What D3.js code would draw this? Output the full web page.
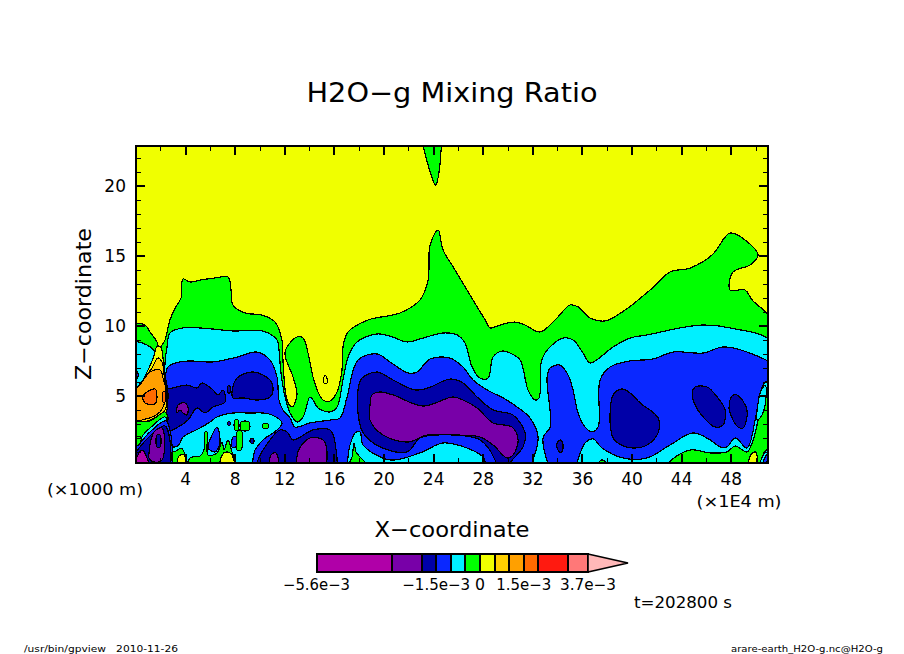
<!DOCTYPE html>
<html><head><meta charset="utf-8">
<script src="https://cdn.jsdelivr.net/npm/d3@7"></script>
<style>html,body{margin:0;background:#fff}svg{display:block}text{font-family:"DejaVu Sans";fill:#000}</style>
</head><body><svg id="c" width="904" height="654"></svg>
<script>
const title = "H2O−g Mixing Ratio";
const xLabel = "X−coordinate", zLabel = "Z−coordinate";
const xMajor = [4,8,12,16,20,24,28,32,36,40,44,48];
const xMinor = [2,6,10,14,18,22,26,30,34,38,42,46,50];
const zMajor = [5,10,15,20];
const zMinor = [1,2,3,4,6,7,8,9,11,12,13,14,16,17,18,19,21,22];
const levels = [-5.6e-3,-3e-3,-2e-3,-1.5e-3,-1e-3,-5e-4,0,5e-4,1e-3,1.5e-3,2e-3,3e-3,3.7e-3];
const levelLabels = [[-5.6e-3,"−5.6e−3",67],[-1.5e-3,"−1.5e−3",68],[0,"0",10],[1.5e-3,"1.5e−3",55],[3.7e-3,"3.7e−3",56]];
const bandColors = ["#b000a8","#7800a8","#0000a8","#0a28ff","#00f0ff","#00ff00","#f0ff00","#ffd000","#ffa000","#ff6a00","#ff1a10","#ff7878","#ffb8b8"];

// contour regions, [x (1E4 m), z (1000 m)]
const greenMain = [[-.44,10.19],[.04,10.19],[.77,10.05],[1.17,9.55],[1.73,8.84],[1.90,8.34],[2.14,8.62],[2.38,8.98],[2.78,10.41],[3.19,11.26],[3.67,11.98],[3.83,13.34],[4.40,13.12],[5.20,13.26],[6.41,13.41],[7.46,13.48],[7.70,12.55],[7.86,11.48],[8.83,10.91],[10.20,10.76],[11.25,10.26],[11.81,8.98],[11.90,7.34],[12.22,4.69],[12.62,4.19],[13.02,5.05],[12.70,6.34],[12.06,8.12],[13.02,9.19],[13.51,9.12],[13.91,8.05],[14.31,6.34],[14.72,5.26],[15.12,4.69],[15.69,4.62],[16.25,5.26],[16.65,6.84],[16.73,8.48],[17.14,9.55],[18.75,10.41],[21.33,10.91],[22.94,11.84],[23.59,13.26],[23.75,15.76],[24.40,16.84],[24.80,15.41],[25.77,13.98],[26.98,12.19],[28.19,10.41],[28.59,9.84],[29.40,10.05],[30.60,10.26],[31.41,10.05],[32.62,9.55],[33.83,10.41],[35.04,11.48],[35.69,11.34],[36.65,10.55],[37.86,10.34],[39.48,11.12],[41.49,12.55],[43.11,13.84],[44.72,14.12],[46.49,15.05],[47.94,16.62],[49.15,16.12],[50.20,15.05],[49.56,14.34],[48.19,13.84],[47.94,12.55],[49.15,12.55],[49.72,11.84],[51.57,10.05],[51.57,-.66],[-.44,-.66]];
const greenTop = [[22.94,23.98],[23.27,22.55],[23.59,21.48],[24.2,20.05],[24.5,21.12],[24.64,22.55],[24.88,23.98]];
const yellowDot = [[15.2,6.34],[15.36,6.41],[15.44,5.91],[15.2,5.91]];
const cyanMain = [[2.54,8.48],[2.78,9.48],[3.83,9.84],[6.25,9.76],[7.86,9.62],[10.28,9.62],[11.41,8.98],[11.57,8.26],[11.73,6.62],[12.06,4.91],[12.46,3.76],[13.02,3.12],[13.51,3.48],[14.07,4.91],[14.31,4.69],[14.72,4.12],[15.69,3.84],[16.25,4.19],[16.73,6.12],[17.14,7.76],[17.86,8.84],[19.48,9.41],[20.52,9.26],[21.90,8.84],[23.19,9.12],[24.80,9.48],[25.93,9.34],[26.57,8.76],[27.14,7.05],[27.78,6.26],[28.43,6.26],[28.83,7.76],[29.56,8.19],[30.20,8.05],[31.01,7.55],[31.65,5.41],[32.22,4.69],[32.54,4.84],[32.70,7.34],[33.19,8.26],[34.48,9.12],[35.28,8.98],[36.09,8.05],[36.65,7.34],[38.51,8.48],[39.88,9.12],[41.25,9.34],[43.91,9.84],[45.77,10.05],[47.94,9.84],[51.57,8.62],[51.57,-.66],[2.38,-.66],[2.38,4.69],[2.38,7.34]];
const blueMain = [[2.62,7.05],[3.59,7.41],[4.40,7.48],[6.25,7.41],[8.19,7.76],[9.80,8.12],[10.85,7.55],[11.41,6.34],[11.57,4.69],[11.90,3.98],[12.46,3.41],[12.86,2.76],[14.07,3.05],[15.69,3.26],[16.49,3.41],[17.06,4.91],[17.94,7.55],[19.48,7.98],[20.52,7.41],[21.98,6.62],[22.70,6.69],[23.75,7.62],[25.36,7.69],[26.41,7.05],[27.22,6.12],[28.35,5.41],[29.64,4.84],[30.77,4.19],[31.81,3.41],[32.46,2.05],[31.98,.26],[31.41,-.66],[28.59,-.66],[28.02,.62],[26.73,1.26],[24.80,1.62],[22.94,.91],[20.52,.41],[18.35,1.48],[18.10,2.41],[17.70,2.34],[17.30,1.48],[16.49,-.66],[2.38,-.66],[2.38,2.55],[2.38,5.62]];
const blueRight = [[33.19,6.34],[33.43,6.98],[34.23,7.19],[34.88,6.48],[35.28,5.41],[35.69,3.76],[36.25,2.76],[36.81,2.41],[37.30,2.76],[37.46,6.12],[38.27,7.05],[39.88,7.48],[41.73,7.62],[43.35,8.12],[45.77,8.05],[47.38,8.48],[49.31,8.12],[51.57,7.05],[51.57,6.12],[50.77,5.98],[50.36,5.19],[50.20,4.48],[49.96,3.26],[49.31,1.26],[48.35,1.98],[47.70,1.34],[47.14,1.34],[46.33,1.84],[44.96,2.34],[43.11,1.48],[41.25,.55],[39.31,.55],[37.62,1.26],[36.90,1.91],[36.25,1.62],[35.04,-.66],[33.83,-.66],[32.86,1.98],[33.43,2.76]];
const navyCenter = [[17.94,5.41],[18.27,6.26],[19.48,6.69],[20.77,6.12],[22.54,5.41],[23.59,5.55],[25.36,6.19],[26.41,5.91],[27.54,4.91],[28.83,3.98],[30.44,3.62],[31.41,2.34],[31.25,1.34],[30.20,.19],[29.80,-.66],[29.23,-.66],[28.99,.41],[27.78,1.84],[24.56,2.20],[22.94,1.98],[21.90,.98],[19.72,1.34],[18.35,2.34],[17.94,3.76]];
const purpleCenter = [[18.91,4.34],[19.07,5.05],[19.72,5.26],[20.77,5.05],[23.19,4.26],[25.60,4.91],[26.41,4.69],[27.54,4.12],[28.83,3.05],[30.36,2.76],[30.85,1.84],[30.44,.76],[29.96,.55],[28.83,1.48],[27.78,2.05],[25.93,2.19],[23.51,2.19],[21.98,1.69],[19.96,2.19],[18.91,3.26]];
const navyBig = [[38.27,3.76],[38.51,5.05],[39.23,5.48],[39.88,5.19],[40.69,4.48],[42.14,3.41],[42.14,2.34],[41.25,1.48],[40.28,1.26],[39.31,1.41],[38.51,1.98],[38.27,3.05]];
const navyRightA = [[44.88,5.19],[45.12,5.62],[46.09,5.62],[46.90,4.91],[47.54,3.98],[47.38,2.91],[46.73,2.76],[45.77,3.48],[45.12,4.34]];
const navyRightB = [[47.86,4.12],[48.11,4.98],[48.51,5.05],[49.31,3.98],[48.99,2.69],[48.59,2.76],[47.94,3.76]];
const navySmall = [[33.99,1.62],[34.31,1.84],[34.48,1.34],[34.31,.91],[33.99,1.26]];
const navyUpperLeft = [[3.02,5.55],[4.15,5.76],[4.96,5.55],[5.36,5.91],[6.25,5.41],[6.65,5.05],[7.06,5.41],[7.22,4.55],[6.25,4.19],[5.60,3.76],[4.96,4.12],[4.23,3.26],[3.43,2.76],[2.38,2.41],[2.38,5.41]];
const navyOval = [[7.78,5.26],[8.19,6.26],[9.48,6.69],[10.85,6.12],[11.09,5.41],[10.85,4.91],[9.88,4.69],[8.67,4.84],[7.86,4.84]];
const navySliver = [[7.46,5.7],[7.6,5.7],[7.6,5.2],[7.46,5.2]];
const purpleSpot = [[3.35,3.76],[3.43,4.34],[3.99,4.48],[4.23,4.19],[4.15,3.62],[3.83,3.76],[3.59,3.98]];
const cyanLake = [[2.14,-.66],[2.14,2.05],[2.46,2.19],[2.62,1.41],[3.43,1.41],[3.83,2.05],[4.40,2.34],[5.20,2.69],[6.01,3.12],[6.57,3.48],[7.86,3.76],[9.23,3.76],[10.28,3.76],[11.01,3.62],[11.81,3.05],[11.41,2.55],[10.28,1.84],[9.64,1.12],[8.99,-.66]];
const greenA = [[2.78,-.66],[2.86,.91],[3.27,1.05],[3.67,1.26],[3.91,.98],[4.07,-.66]];
const yellowA = [[3.43,-.66],[3.51,.69],[3.91,.76],[3.99,-.66]];
const greenB = [[4.15,-.66],[4.40,.55],[5.20,.69],[5.52,1.12],[5.60,2.41],[5.77,2.41],[5.85,.76],[6.57,.91],[6.98,1.69],[7.14,1.12],[7.46,1.84],[7.78,.98],[8.02,.41],[8.43,-.66]];
const yellowB = [[6.81,-.66],[6.98,.76],[7.30,.98],[7.78,.76],[7.94,-.66]];
const greenC = [[8.19,1.12],[8.19,2.41],[8.43,2.55],[8.59,2.41],[8.51,1.12]];
const greenD = [[8.51,3.12],[9.15,3.12],[9.15,2.55],[8.51,2.55]];
const greenE = [[8.02,3.26],[8.27,3.26],[8.27,2.55],[8.02,2.55]];
const greenF = [[10.28,2.98],[10.69,2.98],[10.69,2.69],[10.28,2.69]];
const blueG = [[5.85,1.27],[6.17,2.19],[6.57,2.76],[6.81,1.62],[6.41,.98]];
const blueH = [[7.78,1.34],[7.86,2.05],[8.1,2.05],[8.1,1.34]];
const navyDot = [[9.23,1.76],[9.40,1.98],[9.56,1.76],[9.40,1.55]];
const navyDot2 = [[7.46,3.12],[7.62,3.12],[7.62,2.91],[7.46,2.91]];
const navyLower = [[9.64,-.66],[9.88,.41],[10.44,1.34],[11.65,2.55],[12.22,2.41],[12.70,1.84],[14.31,2.55],[15.69,2.55],[16.09,1.62],[15.93,-.66]];
const purpleLower = [[13.10,.98],[14.07,1.98],[15.12,1.84],[15.44,.98],[15.04,-.66],[13.27,-.66]];
const purpleLowerB = [[10.85,-.66],[10.93,.76],[11.33,.91],[11.49,-.66]];
const greenCenter = [[16.89,-.66],[17.46,.62],[17.62,1.62],[17.78,.98],[18.10,.62],[19.31,-.66]];
const greenBump = [[36.90,-.66],[37.62,.41],[38.43,-.66]];
const greenRight = [[42.30,-.66],[42.94,.19],[44.72,1.12],[46.33,.91],[47.70,.98],[48.35,1.41],[49.31,.98],[49.80,1.84],[50.20,3.26],[50.52,4.98],[51.01,5.19],[51.57,5.19],[51.57,-.66]];
const cyanRight = [[50.20,4.48],[50.36,5.19],[50.77,5.76],[50.85,5.05],[50.52,3.62],[50.12,3.26]];
const yellowRight = [[49.48,-.66],[49.56,.69],[49.96,.98],[50.12,.69],[49.96,-.66]];
const cyanCorner = [[50.20,-.66],[51.01,1.26],[51.57,1.26],[51.57,-.66]];
const blueCorner = [[50.44,-.66],[51.01,.91],[51.57,.91],[51.57,-.66]];
const purpleCorner = [[50.77,-.66],[51.01,.41],[51.57,.41],[51.57,-.66]];
const cyanLeft = [[-.44,8.76],[.93,8.62],[1.65,7.91],[1.17,6.98],[.52,5.98],[.12,5.26],[-.44,4.84]];
const blueSliver = [[-.04,6.84],[.16,6.69],[.16,6.26],[-.04,6.12]];
const yellowLeft = [[2.02,8.5],[1.72,8.5],[1.49,7.84],[1.09,6.98],[.52,5.98],[.12,5.26],[-.44,4.69],[-.44,2.05],[1.17,2.91],[2.38,3.62],[2.62,5.05],[2.38,6.48],[2.22,7.69]];
const goldLeft = [[1.81,7.69],[1.33,6.98],[.85,6.41],[.28,5.76],[-.44,5.05],[-.44,2.91],[1.17,3.26],[2.38,3.98],[2.54,5.19],[2.30,6.48],[2.14,7.41]];
const orangeLeft = [[1.98,6.84],[1.17,6.69],[.52,5.98],[.12,5.55],[-.44,5.41],[-.44,3.26],[.52,3.26],[1.98,3.84],[2.46,5.26],[2.22,6.26]];
const deepOrangeA = [[1.57,5.48],[.60,4.98],[.77,4.48],[1.57,4.41],[1.73,4.91]];
const deepOrangeB = [[2.22,5.26],[2.38,5.26],[2.38,4.55],[2.22,4.55]];
const greenLeft = [[-.44,2.55],[.12,3.12],[1.17,3.19],[2.38,3.84],[2.62,3.26],[1.98,2.55],[.77,2.05],[-.44,1.12]];
const cyanStripe = [[.52,2.05],[1.17,2.69],[2.38,3.48],[2.54,2.91],[1.17,2.05],[.52,1.48]];
const blueBase = [[-.44,-.66],[-.44,.76],[.36,1.62],[1.17,2.41],[2.46,3.19],[2.62,-.66]];
const navyBase = [[-.44,-.66],[-.44,.26],[.36,1.34],[1.17,2.12],[2.38,2.84],[2.54,-.66]];
const purpleLeft = [[1.09,.91],[1.25,1.84],[1.49,2.41],[2.14,2.69],[2.14,.41],[1.49,.26],[1.09,.55]];
const navySlit = [[1.73,2.19],[1.98,2.19],[1.98,1.34],[1.73,1.34]];
const magentaLeft = [[-.44,-.66],[.12,.62],[.52,1.12],[.93,.55],[1.09,-.66]];
const greenDot = [[.05,2.05],[.4,2.05],[.4,1.6],[.05,1.45]];

// draw order, each with its colour band
const layerShapes = [greenMain,greenTop,yellowDot,cyanMain,blueMain,blueRight,navyCenter,purpleCenter,navyBig,navyRightA,navyRightB,navySmall,navyUpperLeft,navyOval,navySliver,purpleSpot,cyanLake,greenA,yellowA,greenB,yellowB,greenC,greenD,greenE,greenF,blueG,blueH,navyDot,navyDot2,navyLower,purpleLower,purpleLowerB,greenCenter,greenBump,greenRight,cyanRight,yellowRight,cyanCorner,blueCorner,purpleCorner,cyanLeft,blueSliver,yellowLeft,goldLeft,orangeLeft,deepOrangeA,deepOrangeB,greenLeft,cyanStripe,blueBase,navyBase,purpleLeft,navySlit,magentaLeft,greenDot];
const layerBands  = [5,5,6,4,3,3,2,1,2,2,2,2,2,2,2,1,4,5,6,5,6,5,5,5,5,3,3,2,2,2,1,1,5,5,5,4,6,4,3,0,4,3,6,7,8,9,9,5,4,3,2,1,2,0,5];

const svg = d3.select("#c");
const L=136,R=768,T=146,B=463;
const x = d3.scaleLinear().domain([0,51]).range([135.5,768]);
const z = d3.scaleLinear().domain([0.19,22.84]).range([463,146]);

svg.append("clipPath").attr("id","plot").append("rect").attr("x",L).attr("y",T).attr("width",R-L).attr("height",B-T);
const plot = svg.append("g").attr("clip-path","url(#plot)");
plot.append("rect").attr("x",L).attr("y",T).attr("width",R-L).attr("height",B-T).attr("fill",bandColors[6]);
const line = d3.line().x(d=>x(d[0])).y(d=>z(d[1])).curve(d3.curveCatmullRomClosed.alpha(0.5));
plot.selectAll("path").data(layerShapes).join("path")
  .attr("d",line).attr("fill",(d,i)=>bandColors[layerBands[i]])
  .attr("stroke","#000").attr("stroke-width",1.2).attr("shape-rendering","crispEdges");

function ticks(axis, tr, w){
  const g = svg.append("g").attr("transform",tr).call(axis);
  g.select(".domain").remove();
  g.selectAll("line").attr("stroke","#000").attr("stroke-width",w).attr("shape-rendering","crispEdges");
  return g;
}
const fmt = d=>d;
const none = ()=> "";
const bx = ticks(d3.axisBottom(x).tickValues(xMajor).tickSize(-9).tickFormat(fmt),`translate(0,${B})`,2);
bx.selectAll("text").attr("y",22).attr("dy",0).style("font-family","DejaVu Sans").style("font-size","17px").attr("fill","#000");
ticks(d3.axisBottom(x).tickValues(xMinor).tickSize(-5).tickFormat(none),`translate(0,${B})`,1);
ticks(d3.axisTop(x).tickValues(xMajor).tickSize(-9).tickFormat(none),`translate(0,${T})`,2);
ticks(d3.axisTop(x).tickValues(xMinor).tickSize(-5).tickFormat(none),`translate(0,${T})`,1);
const lz = ticks(d3.axisLeft(z).tickValues(zMajor).tickSize(-9).tickFormat(fmt),`translate(${L},0)`,2);
lz.selectAll("text").attr("x",-10).attr("dy","0.36em").style("font-family","DejaVu Sans").style("font-size","17px").attr("fill","#000");
ticks(d3.axisLeft(z).tickValues(zMinor).tickSize(-5).tickFormat(none),`translate(${L},0)`,1);
ticks(d3.axisRight(z).tickValues(zMajor).tickSize(-9).tickFormat(none),`translate(${R},0)`,2);
ticks(d3.axisRight(z).tickValues(zMinor).tickSize(-5).tickFormat(none),`translate(${R},0)`,1);
svg.append("rect").attr("x",L).attr("y",T).attr("width",R-L).attr("height",B-T)
  .attr("fill","none").attr("stroke","#000").attr("stroke-width",2).attr("shape-rendering","crispEdges");

function label(s,px,py,size,len,anchor){
  const t = svg.append("text").attr("x",px).attr("y",py).attr("font-size",size).text(s).attr("text-anchor",anchor||"middle");
  if(len) t.attr("textLength",len).attr("lengthAdjust","spacingAndGlyphs");
  return t;
}
label(title,452,102,27,291);
label(xLabel,452,537,21,155);
label(zLabel,0,0,21,152).attr("transform","translate(91,304) rotate(-90)");
label("(×1000 m)",95,495,16,96);
label("(×1E4 m)",739,507,16,85);
label("t=202800 s",683,608,16,98);
label("/usr/bin/gpview   2010-11-26",24,652,8.5,154,"start").style("white-space","pre");
label("arare-earth_H2O-g.nc@H2O-g",883,652,8.5,152,"end");

// colour bar
const cb = d3.scaleLinear().domain([levels[0],levels[levels.length-1]]).range([316.5,588]);
const cbTop=554, cbH=18;
const cbPairs = d3.pairs(levels);
svg.append("g").selectAll("rect").data(cbPairs).join("rect")
  .attr("x",d=>cb(d[0])).attr("y",cbTop).attr("width",d=>cb(d[1])-cb(d[0])).attr("height",cbH)
  .attr("fill",(d,i)=>bandColors[i]).attr("stroke","#000").attr("stroke-width",2).attr("shape-rendering","crispEdges");
const tipW = 40;
svg.append("path").attr("d",d3.line()([[cb(levels[12]),cbTop],[cb(levels[12])+tipW,cbTop+cbH/2],[cb(levels[12]),cbTop+cbH]])+"Z")
  .attr("fill",bandColors[12]).attr("stroke","#000").attr("stroke-width",1.6);
levelLabels.forEach(d=>label(d[1],cb(d[0]),590,15,d[2]));
</script></body></html>
